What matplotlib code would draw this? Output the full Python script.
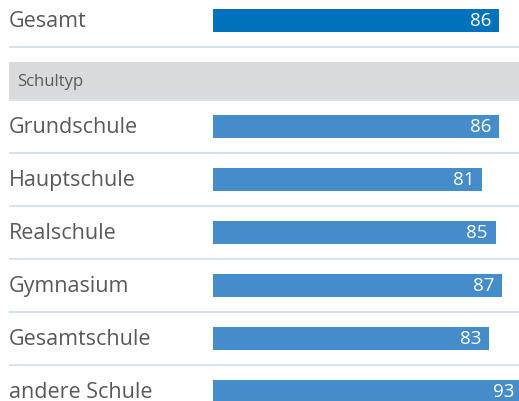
import matplotlib
matplotlib.use("Agg")
import matplotlib.pyplot as plt

# data
total_label = "Gesamt"
total_value = 86
group_title = "Schultyp"
categories = ["Grundschule", "Hauptschule", "Realschule", "Gymnasium",
              "Gesamtschule", "andere Schule"]
values = [86, 81, 85, 87, 83, 93]

plt.rcParams['font.family'] = ['Open Sans', 'DejaVu Sans']

text_color = "#58595b"
dark_blue = "#0071bc"
bar_blue = "#448dca"
band_gray = "#d9dadc"
line_color = "#d6e1f1"

# layout in pixels (axes spans the whole figure)
W, H = 519, 402
bar_left = 213
px_per_unit = 286 / 86
bar_h = 23
row_start = 127.5
row_pitch = 53

fig = plt.figure(figsize=(W / 100, H / 100), dpi=100)
ax = fig.add_axes([0, 0, 1, 1])
ax.set_xlim(0, W)
ax.set_ylim(H, 0)
ax.axis("off")

# Gesamt row
y0 = 21.5
ax.barh(y0, total_value * px_per_unit, left=bar_left, height=bar_h,
        color=dark_blue)
ax.text(9, y0, total_label, fontsize=15.5, color=text_color, va="center")
ax.text(bar_left + total_value * px_per_unit - 8, y0, str(total_value),
        fontsize=13.5, color="white", ha="right", va="center")
ax.plot([9, W], [48, 48], color=line_color, lw=1.5, solid_capstyle="butt")

# group band
ax.fill_between([9, W], 63, 101, color=band_gray, lw=0)
ax.plot([9, W], [101, 101], color=line_color, lw=1.5, solid_capstyle="butt")
ax.text(17, 82, group_title, fontsize=12, color=text_color, va="center")

# school type rows
for i, (cat, val) in enumerate(zip(categories, values)):
    y = row_start + row_pitch * i
    ax.barh(y, val * px_per_unit, left=bar_left, height=bar_h, color=bar_blue)
    ax.text(9, y, cat, fontsize=15.5, color=text_color, va="center")
    ax.text(bar_left + val * px_per_unit - 8, y, str(val), fontsize=13.5,
            color="white", ha="right", va="center")
    if i < len(categories) - 1:
        ys = y + row_pitch / 2
        ax.plot([9, W], [ys, ys], color=line_color, lw=1.5,
                solid_capstyle="butt")

fig.savefig("out.png", dpi=100)
